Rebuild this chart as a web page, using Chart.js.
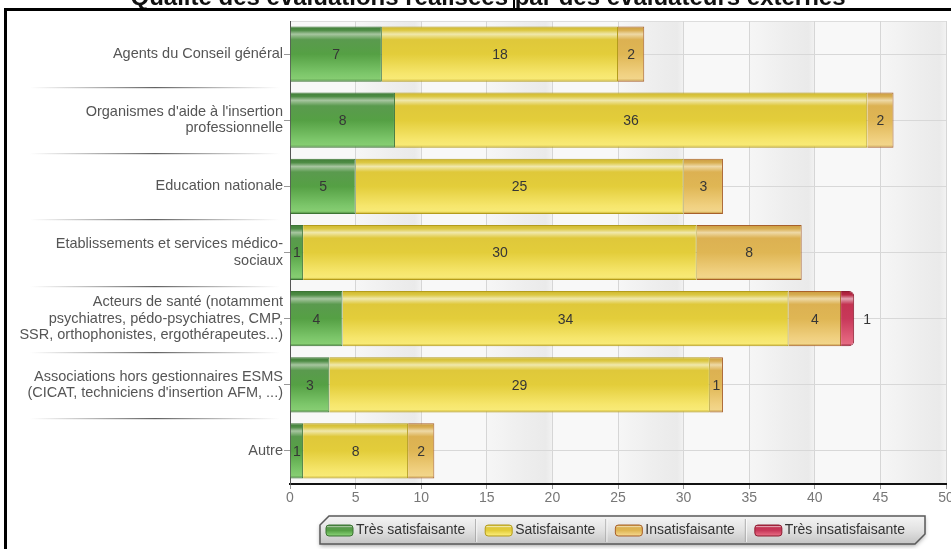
<!DOCTYPE html>
<html><head><meta charset="utf-8">
<script src="https://cdn.jsdelivr.net/npm/chart.js@4.4.1/dist/chart.umd.min.js"></script>
<style>html,body{margin:0;padding:0;background:#fff;overflow:hidden}canvas{display:block}</style>
</head><body>
<canvas id="c" width="951" height="549"></canvas>
<script>
const chartTitle = "Qualité des évaluations réalisées par des évaluateurs externes";
const categories = [
  "Agents du Conseil général",
  ["Organismes d'aide à l'insertion", "professionnelle"],
  "Education nationale",
  ["Etablissements et services médico-", "sociaux"],
  ["Acteurs de santé (notamment", "psychiatres, pédo-psychiatres, CMP,", "SSR, orthophonistes, ergothérapeutes...)"],
  ["Associations hors gestionnaires ESMS", "(CICAT, techniciens d'insertion AFM, ...)"],
  "Autre"
];
const seriesNames = ["Très satisfaisante", "Satisfaisante", "Insatisfaisante", "Très insatisfaisante"];
const tresSatisfaisante   = [7, 8, 5, 1, 4, 3, 1];
const satisfaisante       = [18, 36, 25, 30, 34, 29, 8];
const insatisfaisante     = [2, 2, 3, 8, 4, 1, 2];
const tresInsatisfaisante = [0, 0, 0, 0, 1, 0, 0];
const xTickValues = [0, 5, 10, 15, 20, 25, 30, 35, 40, 45, 50];

const FONT = '"Liberation Sans", Arial, Helvetica, sans-serif';
const CAT_PCT = 0.835;

const styles = [
  { border: '#3d7434', solid: '#5aa64a',
    stops: [[0,'#3f7d37'],[0.07,'#4e8c45'],[0.14,'#a7c6a0'],[0.24,'#5a9a4e'],[0.5,'#55a044'],[0.85,'#7cc66a'],[0.95,'#86cd72'],[1,'#3f7a35']] },
  { border: '#b49c1c', solid: '#ecd84a',
    stops: [[0,'#cdb62c'],[0.07,'#dcc844'],[0.14,'#f0e8ac'],[0.24,'#dfc83a'],[0.5,'#e3cd3a'],[0.85,'#f6e66c'],[0.95,'#f8ea76'],[1,'#c2a822']] },
  { border: '#a8602a', solid: '#e2bb5a',
    stops: [[0,'#c99a3e'],[0.07,'#d8ae52'],[0.14,'#eed9a6'],[0.24,'#dcb152'],[0.5,'#dfb654'],[0.85,'#f0d080'],[0.95,'#f2d58a'],[1,'#b8862e']] },
  { border: '#8e1e32', solid: '#cc3a58',
    stops: [[0,'#a01e38'],[0.07,'#b82a46'],[0.14,'#e2a4b2'],[0.24,'#c43452'],[0.5,'#c8385a'],[0.85,'#e0607a'],[0.95,'#e46a82'],[1,'#8e1a30']] }
];

function barGradient(st) {
  return function (ctx) {
    if (ctx.type !== 'data') return st.solid;
    const chart = ctx.chart;
    if (!chart.chartArea || !chart.scales.y) return st.solid;
    const y = chart.scales.y;
    const c = y.getPixelForValue(ctx.dataIndex);
    const h = (y.height / categories.length) * CAT_PCT;
    const g = chart.ctx.createLinearGradient(0, c - h / 2, 0, c + h / 2);
    st.stops.forEach(s => g.addColorStop(s[0], s[1]));
    return g;
  };
}

const seriesData = [tresSatisfaisante, satisfaisante, insatisfaisante, tresInsatisfaisante];
const datasets = seriesData.map((d, i) => ({
  label: seriesNames[i],
  data: d,
  backgroundColor: barGradient(styles[i]),
  borderColor: styles[i].border,
  borderWidth: 1,
  borderSkipped: 'start',
  borderRadius: i === 3 ? 5 : 0,
  categoryPercentage: CAT_PCT,
  barPercentage: 1
}));

const bgPlugin = {
  id: 'bg',
  beforeDraw(chart) {
    const c = chart.ctx, a = chart.chartArea, x = chart.scales.x, y = chart.scales.y;
    c.save();
    c.fillStyle = '#ffffff';
    c.fillRect(0, 0, chart.width, chart.height);
    c.fillStyle = '#f8f8f8';
    c.fillRect(a.left, a.top, a.right - a.left, a.bottom - a.top);
    for (let k = 0; k < xTickValues.length - 1; k++) {
      if (k % 2 === 0) continue;
      const x0 = x.getPixelForValue(xTickValues[k]);
      const x1 = x.getPixelForValue(xTickValues[k + 1]);
      const g = c.createLinearGradient(x0, 0, x1, 0);
      g.addColorStop(0, '#f6f6f6');
      g.addColorStop(0.55, '#eeeeee');
      g.addColorStop(0.9, '#eaeaea');
      g.addColorStop(1, '#f2f2f2');
      c.fillStyle = g;
      c.fillRect(x0, a.top, x1 - x0, a.bottom - a.top);
    }
    const step = y.height / categories.length;
    for (let i = 1; i < categories.length; i++) {
      const yy = Math.round(a.top + step * i) + 0.5;
      const g = c.createLinearGradient(30, 0, 280, 0);
      g.addColorStop(0, 'rgba(120,120,120,0)');
      g.addColorStop(0.5, 'rgba(90,90,90,0.95)');
      g.addColorStop(1, 'rgba(120,120,120,0)');
      c.strokeStyle = g;
      c.lineWidth = 1;
      c.beginPath(); c.moveTo(30, yy); c.lineTo(280, yy); c.stroke();
      const g2 = c.createLinearGradient(30, 0, 280, 0);
      g2.addColorStop(0, 'rgba(200,200,200,0)');
      g2.addColorStop(0.5, 'rgba(200,200,200,0.6)');
      g2.addColorStop(1, 'rgba(200,200,200,0)');
      c.strokeStyle = g2;
      c.beginPath(); c.moveTo(30, yy + 1); c.lineTo(280, yy + 1); c.stroke();
    }
    c.strokeStyle = '#dddddd';
    c.beginPath(); c.moveTo(a.left, a.top + 0.5); c.lineTo(a.right, a.top + 0.5); c.stroke();
    c.restore();
  }
};

const labelPlugin = {
  id: 'labels',
  afterDatasetsDraw(chart) {
    const c = chart.ctx;
    c.save();
    c.font = '14px ' + FONT;
    c.fillStyle = '#363636';
    c.textBaseline = 'middle';
    chart.data.datasets.forEach((ds, di) => {
      const meta = chart.getDatasetMeta(di);
      meta.data.forEach((el, i) => {
        const v = ds.data[i];
        if (!v) return;
        if (di === 3) {
          c.textAlign = 'left';
          c.fillText(String(v), el.x + 9, el.y + 1);
        } else {
          c.textAlign = 'center';
          c.fillText(String(v), (el.x + el.base) / 2, el.y + 1);
        }
      });
    });
    c.restore();
  }
};

const framePlugin = {
  id: 'frame',
  afterDraw(chart) {
    const c = chart.ctx;
    c.save();
    c.font = 'bold 24px ' + FONT;
    c.fillStyle = '#111';
    c.textAlign = 'center';
    c.textBaseline = 'alphabetic';
    c.fillText(chartTitle, 488, 5);
    c.fillStyle = '#000';
    c.fillRect(4, 8, 951 - 4, 3);
    c.fillRect(4, 8, 3, 549 - 8);
    c.fillRect(513, 0, 2, 9);
    const L = 320, R = 925, T = 516, B = 544;
    c.save();
    c.shadowColor = 'rgba(0,0,0,0.35)';
    c.shadowBlur = 4;
    c.shadowOffsetY = 2;
    c.beginPath();
    c.moveTo(L + 9, T); c.lineTo(R, T); c.lineTo(R, B - 10); c.lineTo(R - 10, B);
    c.lineTo(L, B); c.lineTo(L, T + 9); c.closePath();
    const lg = c.createLinearGradient(0, T, 0, B);
    lg.addColorStop(0, '#f4f4f4'); lg.addColorStop(0.5, '#e2e2e2'); lg.addColorStop(1, '#c4c4c4');
    c.fillStyle = lg;
    c.fill();
    c.restore();
    c.strokeStyle = '#5a5a5a';
    c.lineWidth = 1.5;
    c.beginPath();
    c.moveTo(L + 9, T); c.lineTo(R, T); c.lineTo(R, B - 10); c.lineTo(R - 10, B);
    c.lineTo(L, B); c.lineTo(L, T + 9); c.closePath();
    c.stroke();
    c.font = '14px ' + FONT;
    c.textBaseline = 'middle';
    c.textAlign = 'left';
    let x = L + 6;
    const cy = (T + B) / 2 + 0.5;
    seriesNames.forEach((name, i) => {
      const st = styles[i];
      const sw = 27, sh = 11;
      const g = c.createLinearGradient(0, cy - sh / 2, 0, cy + sh / 2);
      st.stops.forEach(s => g.addColorStop(s[0], s[1]));
      c.fillStyle = g;
      c.beginPath();
      if (c.roundRect) c.roundRect(x, cy - sh / 2, sw, sh, 3); else c.rect(x, cy - sh / 2, sw, sh);
      c.fill();
      c.strokeStyle = st.border; c.lineWidth = 1; c.stroke();
      x += sw + 3;
      c.fillStyle = '#333';
      c.fillText(name, x, cy);
      x += c.measureText(name).width;
      if (i < seriesNames.length - 1) {
        x += 10;
        c.strokeStyle = 'rgba(150,150,150,0.8)';
        c.beginPath(); c.moveTo(x + 0.5, T + 3); c.lineTo(x + 0.5, B - 2); c.stroke();
        c.strokeStyle = 'rgba(255,255,255,0.8)';
        c.beginPath(); c.moveTo(x + 1.5, T + 3); c.lineTo(x + 1.5, B - 2); c.stroke();
        x += 10;
      }
    });
    c.restore();
  }
};

new Chart(document.getElementById('c'), {
  type: 'bar',
  data: { labels: categories, datasets: datasets },
  options: {
    indexAxis: 'y',
    responsive: false,
    animation: false,
    devicePixelRatio: 1,
    layout: { padding: { top: 21, right: 5, bottom: 35, left: 0 } },
    plugins: { legend: { display: false }, tooltip: { enabled: false }, title: { display: false } },
    scales: {
      x: {
        stacked: true,
        min: 0, max: 50,
        afterBuildTicks(scale) { scale.ticks = xTickValues.map(v => ({ value: v })); },
        afterFit(scale) { scale.height = 30; scale.paddingLeft = 0; scale.paddingRight = 0; },
        ticks: { color: '#777', font: { family: FONT, size: 14 }, padding: 1, maxRotation: 0, autoSkip: false },
        grid: { color: '#d6d6d6', lineWidth: 1, tickLength: 5, tickColor: '#999' },
        border: { color: '#111', width: 2 }
      },
      y: {
        stacked: true,
        afterFit(scale) { scale.width = 290; },
        ticks: { color: '#555', font: { family: FONT, size: 14.5, lineHeight: 1.14 }, padding: 1, autoSkip: false },
        grid: { offset: false, color: '#d8d8d8', lineWidth: 1, tickLength: 6, tickColor: '#999' },
        border: { color: '#555', width: 1 }
      }
    }
  },
  plugins: [bgPlugin, labelPlugin, framePlugin]
});
</script>
</body></html>
